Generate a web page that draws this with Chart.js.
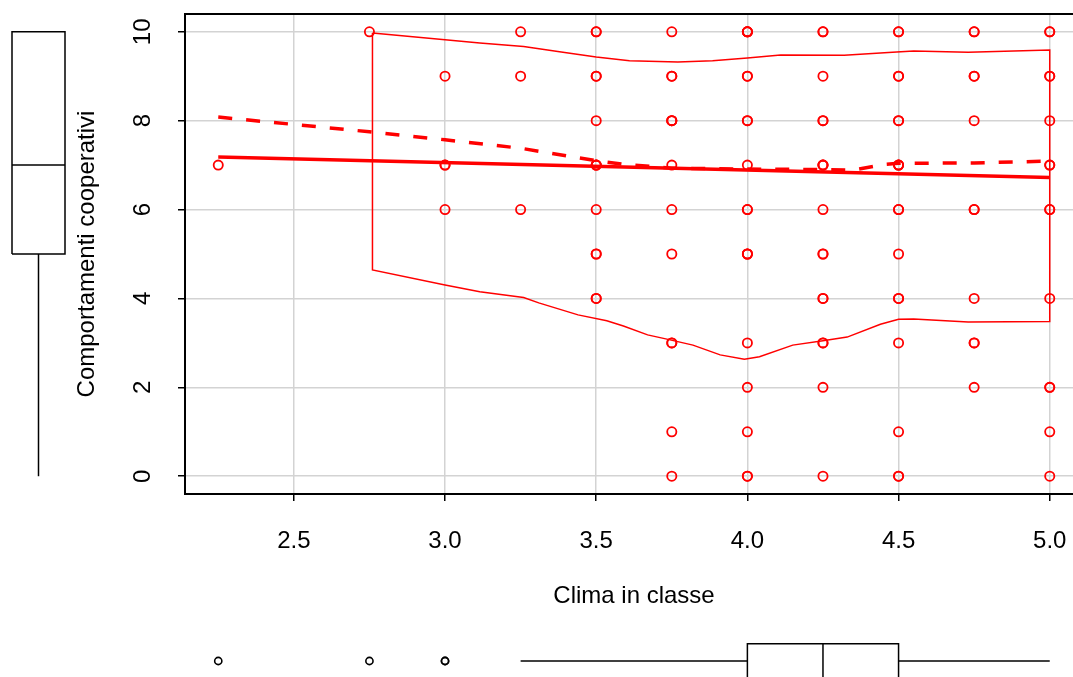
<!DOCTYPE html>
<html>
<head>
<meta charset="utf-8">
<script src="https://cdn.jsdelivr.net/npm/chart.js@4.4.1/dist/chart.umd.min.js"></script>
<style>
  html, body { margin: 0; padding: 0; background: #fff; overflow: hidden; }
  #wrap { position: relative; width: 1073px; height: 677px; overflow: hidden; }
  canvas { position: absolute; }
</style>
</head>
<body>
<div id="wrap">
  <canvas id="main" width="1090" height="677" style="left:0;top:0"></canvas>
  <canvas id="boxY" width="80" height="480" style="left:0;top:14px"></canvas>
  <canvas id="boxX" width="1090" height="122" style="left:0;top:600px"></canvas>
</div>
<script>
// Dati
const climaLevels = [2.25, 2.75, 3.0, 3.25, 3.5, 3.75, 4.0, 4.25, 4.5, 4.75, 5.0];
// valori ripetuti = punti sovrapposti (cerchi più marcati)
const comportamenti = [
    [7],
    [10],
    [9, 7, 7, 6],
    [10, 9, 6],
    [10, 10, 9, 9, 8, 7, 7, 7, 6, 5, 5, 4, 4],
    [10, 9, 9, 8, 8, 8, 7, 6, 5, 3, 3, 1, 0],
    [10, 10, 10, 10, 9, 9, 8, 8, 7, 6, 6, 5, 5, 5, 3, 2, 1, 0, 0],
    [10, 10, 9, 8, 8, 7, 7, 7, 6, 5, 5, 4, 4, 3, 3, 2, 0],
    [10, 10, 9, 9, 8, 8, 7, 7, 7, 6, 6, 5, 4, 4, 3, 1, 0, 0],
    [10, 10, 9, 9, 8, 6, 6, 4, 3, 3, 2],
    [10, 10, 9, 9, 8, 7, 7, 6, 6, 4, 2, 2, 1, 0]
];

const xTicks = [2.5, 3.0, 3.5, 4.0, 4.5, 5.0];
const yTicks = [0, 2, 4, 6, 8, 10];

// retta di regressione
const regX = [2.25, 5.0];
const regY = [7.18, 6.72];

// smoother (tratteggiato)
const loessX = [2.25, 2.75, 3.0, 3.25, 3.5, 3.59, 3.75, 4.0, 4.25, 4.35, 4.46, 4.5, 4.75, 5.0];
const loessY = [8.08, 7.75, 7.57, 7.38, 7.10, 7.02, 6.93, 6.91, 6.90, 6.89, 7.02, 7.04, 7.05, 7.09];

// bande di variabilità
const upperX = [2.76, 3.0, 3.115, 3.26, 3.39, 3.5, 3.61, 3.77, 3.885, 4.0, 4.11, 4.32, 4.48, 4.55, 4.73, 5.0];
const upperY = [9.97, 9.82, 9.75, 9.67, 9.54, 9.43, 9.35, 9.32, 9.35, 9.41, 9.48, 9.47, 9.54, 9.57, 9.54, 9.59];
const lowerX = [2.76, 3.0, 3.115, 3.26, 3.31, 3.44, 3.535, 3.59, 3.67, 3.73, 3.82, 3.91, 3.99, 4.04, 4.15, 4.25, 4.33, 4.44, 4.5, 4.55, 4.73, 5.0];
const lowerY = [4.64, 4.30, 4.15, 4.02, 3.90, 3.63, 3.50, 3.38, 3.18, 3.09, 2.95, 2.73, 2.63, 2.69, 2.95, 3.05, 3.13, 3.42, 3.53, 3.54, 3.47, 3.48];

// boxplot marginali: min, q1, mediana, q3, max
const yStats = [0, 5, 7, 10, 10];
const xStats = [3.25, 4.0, 4.25, 4.5, 5.0];
const xOutliers = [2.25, 2.75, 3.0, 3.0];

const RED = '#ff0000';
const FONT = 'Liberation Sans, Arial, sans-serif';
Chart.defaults.font.family = FONT;
Chart.defaults.color = '#000';

const pts = (xs, ys) => xs.map((x, i) => ({ x: x, y: ys[i] }));

const scatterPts = [];
climaLevels.forEach((x, i) => {
    comportamenti[i].forEach(y => scatterPts.push({ x: x, y: y }));
});

// banda chiusa: superiore, poi inferiore all'indietro
const bandPts = pts(upperX, upperY)
    .concat(pts(lowerX, lowerY).reverse())
    .concat([{ x: upperX[0], y: upperY[0] }]);

const frameBox = {
    id: 'frameBox',
    afterDraw(chart) {
        const { ctx, chartArea: a } = chart;
        ctx.save();
        ctx.strokeStyle = '#000';
        ctx.lineWidth = 2;
        ctx.strokeRect(a.left, a.top, a.right - a.left, a.bottom - a.top);
        ctx.restore();
    }
};

const lineDs = (data, color, width, dash) => ({
    type: 'scatter', data: data, showLine: true, borderColor: color, borderWidth: width,
    borderDash: dash || [], pointRadius: 0, fill: false, tension: 0
});

const gridOpts = {
    color: '#d3d3d3', lineWidth: 1.5, tickColor: '#000', tickLength: 7, tickWidth: 1.5, drawTicks: true
};

new Chart(document.getElementById('main'), {
    type: 'scatter',
    data: {
        datasets: [
            lineDs(pts(regX, regY), RED, 3.5),
            lineDs(pts(loessX, loessY), RED, 3.5, [14, 14]),
            lineDs(bandPts, RED, 1.5),
            {
                data: scatterPts,
                pointStyle: 'circle',
                pointRadius: 4.6,
                pointBorderWidth: 1.8,
                pointBorderColor: RED,
                pointBackgroundColor: 'rgba(0,0,0,0)'
            }
        ]
    },
    options: {
        responsive: false,
        animation: false,
        devicePixelRatio: 1,
        layout: { padding: { left: 0, top: 14, right: 7, bottom: 0 } },
        plugins: { legend: { display: false }, tooltip: { enabled: false } },
        scales: {
            x: {
                type: 'linear', min: 2.14, max: 5.11,
                afterBuildTicks: s => { s.ticks = xTicks.map(v => ({ value: v })); },
                afterFit: s => { s.height = 183; s.paddingLeft = 0; s.paddingRight = 0; },
                grid: gridOpts,
                border: { display: false },
                ticks: {
                    font: { size: 24 }, color: '#000', padding: 26,
                    maxRotation: 0, minRotation: 0,
                    callback: v => Number(v).toFixed(1)
                },
                title: {
                    display: true, text: 'Clima in classe', color: '#000',
                    font: { size: 24, lineHeight: 1.2 }, padding: { top: 0, bottom: 66.6 }
                }
            },
            y: {
                type: 'linear', min: -0.4, max: 10.4,
                afterBuildTicks: s => { s.ticks = yTicks.map(v => ({ value: v })); },
                afterFit: s => { s.width = 185; s.paddingTop = 0; s.paddingBottom = 0; },
                grid: gridOpts,
                border: { display: false },
                ticks: {
                    font: { size: 24 }, color: '#000', padding: 21,
                    minRotation: 90, maxRotation: 90, crossAlign: 'center',
                    callback: v => String(v)
                },
                title: {
                    display: true, text: 'Comportamenti cooperativi', color: '#000',
                    font: { size: 24, lineHeight: 1.2 }, padding: { top: 72.5, bottom: 0 }
                }
            }
        }
    },
    plugins: [frameBox]
});

// boxplot verticale (asse y)
const boxLine = data => ({
    data: data, showLine: true, borderColor: '#000', borderWidth: 1.5,
    pointRadius: 0, fill: false, clip: false
});

new Chart(document.getElementById('boxY'), {
    type: 'scatter',
    data: {
        datasets: [
            boxLine([{ x: 0, y: yStats[1] }, { x: 1, y: yStats[1] }, { x: 1, y: yStats[3] }, { x: 0, y: yStats[3] }, { x: 0, y: yStats[1] }]),
            boxLine([{ x: 0, y: yStats[2] }, { x: 1, y: yStats[2] }]),
            boxLine([{ x: 0.5, y: yStats[0] }, { x: 0.5, y: yStats[1] }]),
            boxLine([{ x: 0.5, y: yStats[3] }, { x: 0.5, y: yStats[4] }])
        ]
    },
    options: {
        responsive: false, animation: false, devicePixelRatio: 1,
        layout: { padding: { left: 12, right: 15, top: 0, bottom: 0 } },
        plugins: { legend: { display: false }, tooltip: { enabled: false } },
        scales: {
            x: { type: 'linear', min: 0, max: 1, display: false },
            y: { type: 'linear', min: -0.4, max: 10.4, display: false }
        }
    }
});

// boxplot orizzontale (asse x)
new Chart(document.getElementById('boxX'), {
    type: 'scatter',
    data: {
        datasets: [
            boxLine([{ x: xStats[1], y: -1 }, { x: xStats[3], y: -1 }, { x: xStats[3], y: 1 }, { x: xStats[1], y: 1 }, { x: xStats[1], y: -1 }]),
            boxLine([{ x: xStats[2], y: -1 }, { x: xStats[2], y: 1 }]),
            boxLine([{ x: xStats[0], y: 0 }, { x: xStats[1], y: 0 }]),
            boxLine([{ x: xStats[3], y: 0 }, { x: xStats[4], y: 0 }]),
            {
                data: xOutliers.map(x => ({ x: x, y: 0 })),
                pointRadius: 3.6, pointBorderWidth: 1.6,
                pointBorderColor: '#000', pointBackgroundColor: 'rgba(0,0,0,0)'
            }
        ]
    },
    options: {
        responsive: false, animation: false, devicePixelRatio: 1,
        layout: { padding: { left: 185, right: 7, top: 0, bottom: 0 } },
        plugins: { legend: { display: false }, tooltip: { enabled: false } },
        scales: {
            x: { type: 'linear', min: 2.14, max: 5.11, display: false },
            y: { type: 'linear', min: -3.2, max: 3.2, display: false }
        }
    }
});
</script>
</body>
</html>
